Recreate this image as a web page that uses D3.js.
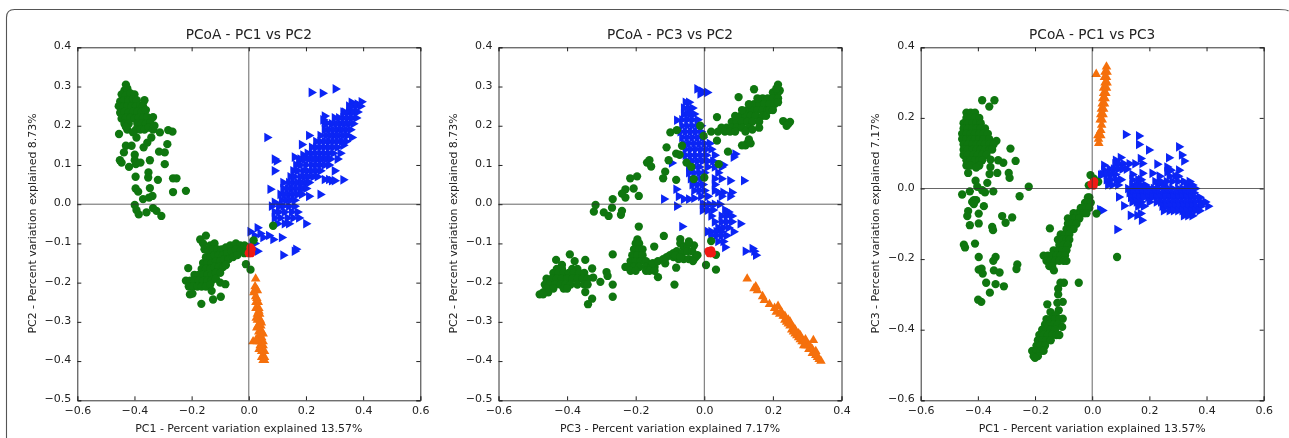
<!DOCTYPE html>
<html>
<head>
<meta charset="utf-8">
<script src="https://cdn.jsdelivr.net/npm/d3@7"></script>
<style>
  html, body { margin: 0; padding: 0; background: #fff; }
  svg { display: block; filter: blur(0.6px); }
  text { font-family: "DejaVu Sans", sans-serif; fill: #222; }
</style>
</head>
<body>
<svg id="chart" width="1289" height="438"></svg>
<script>
// values, [x, y] in axis units
const green12 = [[-0.43,0.305],[-0.435,0.29],[-0.425,0.295],[-0.445,0.28],[-0.43,0.278],[-0.415,0.283],[-0.40,0.28],
  [-0.45,0.262],[-0.437,0.265],[-0.42,0.265],[-0.405,0.268],[-0.392,0.265],[-0.455,0.25],[-0.44,0.248],[-0.425,0.25],[-0.41,0.25],[-0.395,0.25],[-0.38,0.252],[-0.365,0.265],[-0.37,0.25],
  [-0.45,0.233],[-0.435,0.235],[-0.42,0.233],[-0.405,0.235],[-0.39,0.235],[-0.375,0.235],[-0.36,0.24],[-0.445,0.218],[-0.43,0.22],[-0.415,0.22],[-0.40,0.218],[-0.385,0.22],[-0.37,0.22],[-0.355,0.222],
  [-0.435,0.205],[-0.42,0.205],[-0.39,0.205],[-0.375,0.205],[-0.36,0.205],[-0.345,0.208],[-0.335,0.222],[-0.425,0.19],[-0.395,0.19],[-0.38,0.19],[-0.365,0.19],[-0.35,0.195],[-0.335,0.19],[-0.33,0.2],
  [-0.454,0.179],[-0.43,0.197],[-0.405,0.183],[-0.393,0.17],[-0.43,0.149],[-0.41,0.149],[-0.437,0.132],[-0.451,0.112],[-0.445,0.106],[-0.399,0.126],[-0.399,0.112],[-0.419,0.095],[-0.395,0.102],[-0.379,0.106],[-0.346,0.112],
  [-0.368,0.145],[-0.355,0.157],[-0.341,0.17],[-0.311,0.183],[-0.282,0.189],[-0.267,0.185],[-0.285,0.153],[-0.314,0.134],[-0.294,0.132],[-0.294,0.102],[-0.396,0.07],[-0.351,0.081],[-0.352,0.068],[-0.318,0.062],[-0.265,0.066],[-0.253,0.066],
  [-0.22,0.034],[-0.265,0.031],[-0.346,0.041],[-0.396,0.04],[-0.387,0.032],[-0.37,0.013],[-0.337,0.021],[-0.349,0.017],[-0.399,-0.002],[-0.393,-0.015],[-0.385,-0.026],[-0.358,-0.021],[-0.335,-0.01],[-0.323,-0.017],[-0.306,-0.03],
  [-0.17,-0.09],[-0.15,-0.08],[-0.16,-0.10],[-0.135,-0.105],[-0.12,-0.10],[-0.155,-0.115],[-0.14,-0.12],[-0.125,-0.115],[-0.11,-0.115],[-0.095,-0.115],[-0.08,-0.11],[-0.065,-0.105],[-0.045,-0.10],[-0.03,-0.105],[-0.015,-0.105],[-0.005,-0.11],
  [-0.15,-0.135],[-0.135,-0.135],[-0.12,-0.13],[-0.105,-0.13],[-0.09,-0.13],[-0.075,-0.125],[-0.06,-0.12],[-0.045,-0.115],[-0.03,-0.12],[-0.015,-0.125],[-0.16,-0.15],[-0.145,-0.15],[-0.13,-0.15],[-0.115,-0.145],[-0.10,-0.145],[-0.085,-0.14],[-0.07,-0.14],[-0.055,-0.135],[-0.04,-0.13],
  [-0.165,-0.165],[-0.15,-0.165],[-0.135,-0.165],[-0.12,-0.16],[-0.105,-0.16],[-0.09,-0.16],[-0.08,-0.155],[-0.19,-0.18],[-0.175,-0.18],[-0.16,-0.18],[-0.145,-0.18],[-0.13,-0.18],[-0.115,-0.175],[-0.10,-0.175],
  [-0.22,-0.195],[-0.205,-0.195],[-0.19,-0.195],[-0.175,-0.195],[-0.16,-0.195],[-0.145,-0.195],[-0.13,-0.195],[-0.115,-0.19],[-0.10,-0.20],[-0.21,-0.21],[-0.195,-0.21],[-0.18,-0.21],[-0.165,-0.21],[-0.15,-0.21],[-0.135,-0.205],
  [-0.212,-0.163],[-0.206,-0.23],[-0.197,-0.228],[-0.166,-0.254],[-0.125,-0.243],[-0.098,-0.236],[-0.13,-0.221],[-0.082,-0.204],[0.006,-0.167],[-0.01,-0.153],[0.017,-0.092],[0.085,-0.055]];
const blue12 = [[0.359,0.26],[0.394,0.261],[0.38,0.255],[0.36,0.25],[0.375,0.25],[0.39,0.25],[0.35,0.235],[0.365,0.235],[0.38,0.235],[0.33,0.22],[0.345,0.22],[0.36,0.22],[0.375,0.22],[0.32,0.205],[0.335,0.205],[0.35,0.205],[0.365,0.205],
  [0.31,0.19],[0.325,0.19],[0.34,0.19],[0.355,0.19],[0.30,0.175],[0.315,0.175],[0.33,0.175],[0.345,0.175],[0.28,0.16],[0.295,0.16],[0.31,0.16],[0.325,0.16],[0.34,0.16],[0.36,0.17],[0.265,0.145],[0.28,0.145],[0.295,0.145],[0.31,0.145],[0.33,0.15],
  [0.25,0.13],[0.265,0.13],[0.28,0.13],[0.295,0.13],[0.32,0.13],[0.24,0.115],[0.255,0.115],[0.27,0.115],[0.285,0.115],[0.31,0.115],[0.20,0.10],[0.22,0.10],[0.235,0.10],[0.25,0.10],[0.265,0.10],[0.28,0.10],
  [0.19,0.085],[0.205,0.085],[0.22,0.085],[0.235,0.085],[0.25,0.085],[0.30,0.085],[0.18,0.07],[0.195,0.07],[0.21,0.07],[0.225,0.07],[0.24,0.07],[0.265,0.063],[0.28,0.063],[0.29,0.06],[0.30,0.06],[0.33,0.062],
  [0.155,0.055],[0.17,0.055],[0.185,0.055],[0.20,0.055],[0.15,0.04],[0.165,0.04],[0.18,0.04],[0.19,0.04],[0.14,0.025],[0.155,0.025],[0.17,0.025],[0.115,0.01],[0.13,0.01],[0.145,0.01],[0.16,0.01],[0.075,0.038],[0.21,0.02],[0.25,0.025],
  [0.08,-0.005],[0.09,0.005],[0.105,-0.005],[0.12,-0.005],[0.14,-0.005],[0.16,-0.005],[0.09,-0.02],[0.105,-0.02],[0.125,-0.02],[0.15,-0.02],[0.17,-0.02],[0.09,-0.035],[0.11,-0.035],[0.135,-0.035],[0.155,-0.035],[0.175,-0.035],[0.10,-0.05],[0.125,-0.05],[0.14,-0.05],[0.20,-0.05],
  [0.005,-0.07],[0.03,-0.06],[0.02,-0.08],[0.04,-0.075],[0.05,-0.085],[0.07,-0.08],[0.085,-0.09],[0.115,-0.085],[0.02,-0.10],[0.03,-0.12],[0.12,-0.13],[0.165,-0.115],[0.16,-0.12],[0.012,-0.1],
  [0.219,0.285],[0.258,0.283],[0.303,0.294],[0.064,0.17],[0.09,0.115],[0.097,0.11],[0.09,0.085],[0.185,0.152],[0.21,0.175],[0.265,0.21],[0.265,0.225],[0.26,0.215],[0.33,0.235],[0.19,0.125],[0.16,0.12],[0.175,0.11],
  [0.35,0.25],[0.335,0.235],[0.30,0.22],[0.315,0.22],[0.27,0.205],[0.29,0.205],[0.305,0.205],[0.265,0.19],[0.28,0.19],[0.295,0.19],[0.25,0.175],[0.27,0.175],[0.285,0.175],[0.235,0.16],[0.25,0.16],[0.265,0.16],
  [0.22,0.145],[0.235,0.145],[0.25,0.145],[0.205,0.13],[0.22,0.13],[0.235,0.13],[0.18,0.115],[0.195,0.115],[0.21,0.115],[0.225,0.115],[0.165,0.10],[0.18,0.10],[0.155,0.085],[0.17,0.085],[0.145,0.07],[0.16,0.07],
  [0.12,0.055],[0.14,0.055],[0.21,0.055],[0.12,0.04],[0.135,0.04],[0.20,0.04],[0.11,0.025],[0.125,0.025],[0.185,0.025]];
const orange12 = [[0.024,-0.19],[0.022,-0.21],[0.02,-0.22],[0.03,-0.22],[0.024,-0.235],[0.025,-0.25],[0.033,-0.25],[0.025,-0.265],[0.035,-0.265],[0.03,-0.28],[0.038,-0.28],[0.03,-0.295],[0.04,-0.295],[0.032,-0.31],[0.042,-0.31],
  [0.035,-0.325],[0.045,-0.325],[0.035,-0.34],[0.045,-0.34],[0.015,-0.35],[0.03,-0.35],[0.04,-0.35],[0.05,-0.35],[0.04,-0.36],[0.05,-0.36],[0.045,-0.375],[0.055,-0.375],[0.045,-0.39],[0.055,-0.39],[0.05,-0.398],[0.055,-0.398],
  [0.018,-0.225],[0.028,-0.24],[0.035,-0.272],[0.026,-0.29],[0.044,-0.302],[0.028,-0.315],[0.04,-0.33],[0.05,-0.33],[0.026,-0.345],[0.036,-0.37]];
const red12 = [[0.005,-0.12],[0.008,-0.125],[0.006,-0.11],[0.0,-0.125],[0.01,-0.115]];

const green32 = [[0.215,0.305],[0.20,0.285],[0.215,0.285],[0.22,0.29],[0.17,0.27],[0.185,0.27],[0.20,0.27],[0.215,0.27],[0.145,0.255],[0.16,0.255],[0.175,0.255],[0.19,0.255],[0.205,0.255],[0.125,0.24],[0.14,0.24],[0.155,0.24],[0.17,0.24],[0.185,0.24],
  [0.105,0.225],[0.12,0.225],[0.135,0.225],[0.15,0.225],[0.17,0.225],[0.18,0.225],[0.08,0.21],[0.095,0.21],[0.11,0.21],[0.125,0.21],[0.14,0.21],[0.16,0.21],[0.05,0.195],[0.065,0.195],[0.08,0.195],[0.095,0.195],[0.11,0.195],[0.13,0.195],
  [0.02,0.185],[0.04,0.185],[0.06,0.185],[0.075,0.185],[0.09,0.185],[0.12,0.185],[0.145,0.293],[0.10,0.273],[0.037,0.222],[0.23,0.212],[0.245,0.205],[0.25,0.21],[0.24,0.2],[0.125,0.155],[0.12,0.15],[0.13,0.165],[0.135,0.155],[0.11,0.15],
  [0.037,0.162],[0.069,0.134],[0.042,0.102],[-0.012,0.2],[-0.002,0.174],[-0.099,0.183],[-0.08,0.189],[-0.11,0.145],[-0.065,0.149],[-0.082,0.129],[-0.072,0.126],[-0.104,0.112],[-0.052,0.106],[-0.038,0.095],[-0.16,0.112],[-0.167,0.106],[-0.155,0.096],
  [-0.114,0.083],[-0.12,0.066],[-0.082,0.062],[-0.031,0.064],[0,0.068],[-0.196,0.071],[-0.216,0.066],[-0.23,0.038],[-0.206,0.04],[-0.24,0.027],[-0.23,0.017],[-0.191,0.021],[-0.267,0.013],[-0.317,-0.002],[-0.322,-0.019],[-0.293,-0.021],[-0.279,-0.03],[-0.269,-0.009],[-0.24,-0.017],[-0.243,-0.027],[-0.191,-0.057],
  [-0.118,-0.081],[-0.07,-0.089],[-0.146,-0.108],[-0.267,-0.128],[0.02,-0.094],[0.034,-0.129],[0.005,-0.155],[0.034,-0.167],[-0.135,-0.186],[-0.087,-0.205],[-0.082,-0.162],[-0.114,-0.151],
  [-0.195,-0.09],[-0.20,-0.10],[-0.19,-0.10],[-0.205,-0.115],[-0.19,-0.115],[-0.18,-0.115],[-0.21,-0.13],[-0.195,-0.13],[-0.18,-0.13],[-0.215,-0.145],[-0.2,-0.145],[-0.185,-0.145],[-0.17,-0.145],[-0.23,-0.16],[-0.22,-0.16],[-0.205,-0.16],[-0.19,-0.16],[-0.17,-0.16],[-0.155,-0.16],[-0.145,-0.16],
  [-0.215,-0.17],[-0.20,-0.17],[-0.17,-0.17],[-0.16,-0.17],[-0.145,-0.17],[-0.15,-0.15],[-0.135,-0.145],[-0.12,-0.14],[-0.11,-0.135],[-0.10,-0.13],[-0.09,-0.135],[-0.075,-0.14],[-0.06,-0.14],[-0.045,-0.14],[-0.03,-0.14],
  [-0.07,-0.10],[-0.06,-0.11],[-0.05,-0.105],[-0.08,-0.12],[-0.065,-0.125],[-0.05,-0.12],[-0.035,-0.12],[-0.09,-0.125],[-0.03,-0.105],[-0.045,-0.095],[-0.085,-0.13],[-0.07,-0.135],[-0.025,-0.135],[-0.02,-0.13],[-0.033,-0.145],
  [-0.392,-0.128],[-0.432,-0.142],[-0.378,-0.145],[-0.347,-0.142],[-0.415,-0.155],[-0.327,-0.164],[-0.324,-0.187],[-0.303,-0.198],[-0.285,-0.173],[-0.282,-0.183],[-0.267,-0.205],[-0.267,-0.236],[-0.327,-0.241],[-0.339,-0.255],[-0.347,-0.224],
  [-0.43,-0.165],[-0.415,-0.165],[-0.385,-0.165],[-0.37,-0.165],[-0.44,-0.175],[-0.425,-0.175],[-0.41,-0.175],[-0.395,-0.175],[-0.38,-0.175],[-0.365,-0.175],[-0.35,-0.175],[-0.46,-0.19],[-0.445,-0.19],[-0.43,-0.19],[-0.415,-0.19],[-0.40,-0.19],[-0.385,-0.19],[-0.37,-0.19],[-0.355,-0.19],[-0.34,-0.19],
  [-0.465,-0.205],[-0.45,-0.205],[-0.435,-0.205],[-0.42,-0.205],[-0.405,-0.205],[-0.39,-0.205],[-0.37,-0.205],[-0.35,-0.205],[-0.34,-0.205],[-0.46,-0.215],[-0.44,-0.215],[-0.41,-0.215],[-0.40,-0.215],[-0.47,-0.225],[-0.455,-0.225],[-0.48,-0.23],[-0.47,-0.23],
  [0.155,0.27],[0.13,0.255],[0.11,0.24],[0.09,0.225],[0.19,0.24],[0.20,0.24],[0.16,0.195],[0.14,0.19],[0.215,0.26],[0.21,0.295]];
const blue32 = [[-0.021,0.294],[-0.007,0.288],[0.008,0.285],[-0.012,0.281],[-0.055,0.26],[-0.045,0.26],[-0.06,0.245],[-0.045,0.245],[-0.035,0.245],[-0.06,0.23],[-0.05,0.23],[-0.04,0.23],[-0.03,0.23],[-0.08,0.214],[-0.065,0.215],[-0.05,0.215],[-0.035,0.215],[-0.02,0.215],
  [-0.065,0.20],[-0.05,0.20],[-0.035,0.20],[-0.02,0.20],[-0.01,0.20],[-0.07,0.185],[-0.055,0.185],[-0.04,0.185],[-0.025,0.185],[-0.01,0.185],[-0.065,0.17],[-0.05,0.17],[-0.035,0.17],[-0.02,0.17],[-0.005,0.17],
  [-0.06,0.155],[-0.045,0.155],[-0.03,0.155],[-0.015,0.155],[0,0.155],[0.015,0.155],[-0.055,0.14],[-0.04,0.14],[-0.025,0.14],[-0.01,0.14],[0.005,0.14],[0.02,0.14],[-0.055,0.125],[-0.04,0.125],[-0.025,0.125],[-0.01,0.125],[0.005,0.125],[0.03,0.125],
  [-0.05,0.11],[-0.035,0.11],[-0.02,0.11],[-0.005,0.11],[0.01,0.11],[0.025,0.11],[0.055,0.10],[-0.045,0.095],[-0.03,0.095],[-0.015,0.095],[0.01,0.095],[0.03,0.095],[0.05,0.095],[-0.045,0.08],[-0.03,0.08],[-0.015,0.08],[0,0.08],[0.04,0.08],
  [-0.04,0.065],[-0.025,0.065],[-0.01,0.065],[0.03,0.065],[0.05,0.065],[0.075,0.06],[-0.035,0.05],[-0.02,0.05],[-0.005,0.05],[0.03,0.05],[-0.082,0.038],[-0.03,0.035],[-0.015,0.035],[0,0.035],[0.03,0.035],
  [-0.075,0.02],[-0.06,0.013],[-0.045,0.013],[-0.03,0.015],[-0.01,0.02],[0.01,0.02],[0.05,0.02],[0.075,0.02],[0.115,0.06],[0.08,0.03],[0.055,0.03],[0.04,0.03],[-0.118,0.013],[-0.08,-0.005],[-0.095,0.105],[0.09,0.128],[0.085,0.12],
  [0,0],[0.015,0],[0.03,0],[0.045,0],[-0.005,0],[-0.005,-0.015],[0.01,-0.015],[0.025,-0.015],[0.06,-0.015],[0.07,-0.02],[0.02,-0.03],[0.05,-0.03],[0.065,-0.03],[0.08,-0.03],[0.03,-0.045],[0.05,-0.045],[0.065,-0.045],[0.08,-0.045],[0.105,-0.05],
  [0.04,-0.06],[0.055,-0.06],[0.07,-0.06],[0.01,-0.07],[0.02,-0.07],[0.035,-0.07],[0.05,-0.07],[0.085,-0.07],[0.02,-0.08],[0.035,-0.08],[0.05,-0.08],[0.065,-0.08],[0.04,-0.095],[0.055,-0.095],[0.06,-0.11],[-0.065,-0.057],
  [0.12,-0.12],[0.14,-0.113],[0.15,-0.13],[0.145,-0.12]];
const orange32 = [[0.125,-0.19],[0.145,-0.215],[0.155,-0.22],[0.15,-0.21],[0.17,-0.235],[0.175,-0.245],[0.19,-0.255],[0.205,-0.265],[0.21,-0.275],[0.215,-0.26],[0.22,-0.28],[0.23,-0.285],[0.225,-0.275],[0.235,-0.295],[0.24,-0.30],[0.245,-0.295],
  [0.25,-0.31],[0.255,-0.32],[0.26,-0.315],[0.265,-0.33],[0.27,-0.335],[0.275,-0.33],[0.28,-0.345],[0.285,-0.35],[0.29,-0.35],[0.295,-0.36],[0.30,-0.36],[0.305,-0.37],[0.31,-0.365],[0.315,-0.38],[0.32,-0.38],[0.325,-0.385],[0.33,-0.39],[0.335,-0.395],[0.34,-0.40],[0.318,-0.347],
  [0.235,-0.285],[0.245,-0.305],[0.25,-0.30],[0.26,-0.325],[0.265,-0.32],[0.275,-0.34],[0.28,-0.335],[0.29,-0.36],[0.295,-0.345],[0.305,-0.36],[0.315,-0.37],[0.325,-0.375]];
const red32 = [[0.012,-0.12],[0.018,-0.122],[0.02,-0.118],[0.015,-0.125],[0.022,-0.125]];

const green13 = [[-0.44,0.215],[-0.425,0.215],[-0.41,0.215],[-0.44,0.20],[-0.425,0.20],[-0.41,0.20],[-0.395,0.20],[-0.45,0.185],[-0.435,0.185],[-0.42,0.185],[-0.405,0.185],[-0.39,0.185],[-0.45,0.17],[-0.435,0.17],[-0.42,0.17],[-0.405,0.17],[-0.39,0.17],[-0.375,0.17],
  [-0.455,0.155],[-0.44,0.155],[-0.425,0.155],[-0.41,0.155],[-0.395,0.155],[-0.38,0.155],[-0.365,0.155],[-0.455,0.14],[-0.44,0.14],[-0.425,0.14],[-0.41,0.14],[-0.395,0.14],[-0.38,0.14],[-0.36,0.14],[-0.335,0.135],
  [-0.45,0.125],[-0.435,0.125],[-0.42,0.125],[-0.405,0.125],[-0.39,0.125],[-0.375,0.125],[-0.36,0.125],[-0.345,0.125],[-0.45,0.11],[-0.435,0.11],[-0.42,0.11],[-0.405,0.11],[-0.39,0.11],[-0.375,0.11],[-0.36,0.11],[-0.35,0.11],
  [-0.45,0.095],[-0.435,0.095],[-0.415,0.095],[-0.40,0.095],[-0.385,0.095],[-0.37,0.095],[-0.44,0.08],[-0.425,0.08],[-0.41,0.08],[-0.395,0.08],[-0.385,0.08],[-0.44,0.065],[-0.425,0.065],[-0.395,0.065],
  [-0.385,0.25],[-0.342,0.25],[-0.36,0.232],[-0.286,0.113],[-0.268,0.078],[-0.329,0.08],[-0.311,0.073],[-0.356,0.082],[-0.292,0.044],[-0.289,0.03],[-0.332,0.044],[-0.359,0.041],[-0.356,0.061],[-0.406,0.059],[-0.434,0.044],[-0.408,0.022],[-0.367,0.016],[-0.402,0.005],[-0.385,-0.005],[-0.346,-0.008],[-0.375,-0.011],[-0.428,-0.008],[-0.455,-0.017],
  [-0.414,-0.033],[-0.42,-0.038],[-0.406,-0.033],[-0.414,-0.044],[-0.379,-0.05],[-0.434,-0.064],[-0.437,-0.078],[-0.397,-0.071],[-0.428,-0.104],[-0.397,-0.099],[-0.35,-0.109],[-0.347,-0.118],[-0.315,-0.078],[-0.303,-0.097],[-0.28,-0.082],[-0.254,-0.022],[-0.222,0.005],
  [-0.449,-0.159],[-0.445,-0.167],[-0.41,-0.156],[-0.397,-0.194],[-0.338,-0.194],[-0.346,-0.205],[-0.397,-0.23],[-0.387,-0.227],[-0.383,-0.241],[-0.344,-0.232],[-0.324,-0.238],[-0.262,-0.215],[-0.265,-0.228],[-0.371,-0.267],[-0.338,-0.271],[-0.309,-0.277],[-0.358,-0.295],[-0.399,-0.315],[-0.388,-0.321],
  [-0.148,-0.113],[-0.047,-0.267],[0.087,-0.194],[0.015,-0.071],
  [-0.015,-0.025],[-0.01,-0.025],[-0.025,-0.04],[-0.015,-0.04],[-0.005,-0.04],[-0.04,-0.055],[-0.03,-0.055],[-0.02,-0.055],[-0.01,-0.055],[-0.065,-0.07],[-0.05,-0.07],[-0.04,-0.07],[-0.03,-0.07],[-0.02,-0.07],[-0.085,-0.085],[-0.07,-0.085],[-0.06,-0.085],[-0.045,-0.085],[-0.085,-0.10],[-0.07,-0.10],[-0.055,-0.10],
  [-0.09,-0.115],[-0.075,-0.115],[-0.065,-0.115],[-0.11,-0.13],[-0.095,-0.13],[-0.08,-0.13],[-0.12,-0.145],[-0.105,-0.145],[-0.09,-0.145],[-0.08,-0.145],[-0.115,-0.16],[-0.10,-0.16],[-0.085,-0.16],[-0.135,-0.175],[-0.12,-0.175],[-0.105,-0.175],[-0.09,-0.175],
  [-0.17,-0.19],[-0.155,-0.19],[-0.14,-0.19],[-0.125,-0.19],[-0.11,-0.19],[-0.095,-0.19],[-0.16,-0.205],[-0.145,-0.205],[-0.13,-0.205],[-0.115,-0.205],[-0.10,-0.205],[-0.09,-0.205],[-0.15,-0.22],[-0.14,-0.22],[-0.134,-0.232],
  [-0.119,-0.284],[-0.099,-0.267],[-0.111,-0.267],[-0.119,-0.3],[-0.103,-0.321],[-0.122,-0.324],[-0.157,-0.328],[-0.146,-0.35],[-0.117,-0.345],[-0.103,-0.369],[-0.128,-0.359],
  [-0.16,-0.37],[-0.145,-0.37],[-0.13,-0.37],[-0.115,-0.37],[-0.165,-0.385],[-0.15,-0.385],[-0.135,-0.385],[-0.12,-0.385],[-0.175,-0.40],[-0.16,-0.40],[-0.145,-0.40],[-0.13,-0.40],[-0.105,-0.392],[-0.185,-0.415],[-0.17,-0.415],[-0.155,-0.415],[-0.14,-0.415],[-0.125,-0.415],[-0.115,-0.415],
  [-0.19,-0.43],[-0.175,-0.43],[-0.16,-0.43],[-0.145,-0.43],[-0.195,-0.445],[-0.18,-0.445],[-0.165,-0.445],[-0.21,-0.46],[-0.195,-0.46],[-0.18,-0.46],[-0.17,-0.46],[-0.205,-0.475],[-0.19,-0.475],[-0.2,-0.48],
  [-0.006,0.038],[0.006,0.028],[-0.012,0.009],[0.021,0.019]];
const blue13 = [[0.117,0.153],[0.163,0.149],[0.163,0.125],[0.198,0.109],[0.303,0.118],[0.313,0.095],[0.321,0.078],[0.268,0.087],[0.227,0.069],[0.169,0.085],[0.175,0.071],[0.099,0.088],[0.082,0.08],[0.041,0.066],[0.041,0.052],[0.03,0.038],[0.175,0.043],[0.21,0.043],[0.262,0.061],[0.274,0.052],[0.303,0.052],[0.262,0.047],
  [0.027,-0.06],[0.035,-0.062],[0.087,-0.116],[0.173,-0.09],[0.157,-0.076],[0.134,-0.076],[0.093,-0.024],[0.111,-0.049],[0.169,-0.071],
  [0.08,0.07],[0.095,0.07],[0.11,0.07],[0.13,0.07],[0.15,0.07],[0.06,0.055],[0.075,0.055],[0.09,0.055],[0.105,0.055],[0.12,0.055],[0.035,0.04],[0.05,0.04],[0.065,0.04],[0.08,0.04],[0.14,0.04],[0.05,0.025],[0.065,0.025],[0.085,0.025],[0.10,0.025],[0.14,0.025],[0.16,0.025],[0.17,0.025],
  [0.055,0.01],[0.07,0.01],[0.09,0.01],[0.14,0.01],[0.155,0.01],[0.17,0.01],[0.185,0.01],[0.23,0.01],[0.25,0.01],[0.33,0.01],[0.35,0.01],
  [0.22,0.02],[0.24,0.02],[0.26,0.02],[0.28,0.02],[0.30,0.02],[0.32,0.02],[0.34,0.02],[0.27,0.035],[0.29,0.035],[0.30,0.035],[0.235,0.035],
  [0.125,0],[0.14,0],[0.155,0],[0.17,0],[0.185,0],[0.20,0],[0.215,0],[0.23,0],[0.25,0],[0.265,0],[0.28,0],[0.30,0],[0.315,0],[0.33,0],[0.345,0],[0.36,0],
  [0.13,-0.012],[0.145,-0.012],[0.16,-0.012],[0.175,-0.012],[0.19,-0.012],[0.205,-0.012],[0.22,-0.012],[0.235,-0.012],[0.25,-0.012],[0.265,-0.012],[0.28,-0.012],[0.295,-0.012],[0.31,-0.012],[0.325,-0.012],[0.34,-0.012],[0.355,-0.012],
  [0.135,-0.025],[0.15,-0.025],[0.165,-0.025],[0.18,-0.025],[0.195,-0.025],[0.21,-0.025],[0.225,-0.025],[0.24,-0.025],[0.255,-0.025],[0.27,-0.025],[0.285,-0.025],[0.30,-0.025],[0.315,-0.025],[0.33,-0.025],[0.345,-0.025],[0.36,-0.025],[0.375,-0.025],
  [0.14,-0.038],[0.155,-0.038],[0.17,-0.038],[0.20,-0.038],[0.225,-0.038],[0.24,-0.038],[0.255,-0.038],[0.27,-0.038],[0.285,-0.038],[0.30,-0.038],[0.315,-0.038],[0.33,-0.038],[0.345,-0.038],[0.36,-0.038],[0.38,-0.038],[0.395,-0.038],
  [0.16,-0.05],[0.18,-0.05],[0.245,-0.05],[0.26,-0.05],[0.275,-0.05],[0.29,-0.05],[0.305,-0.05],[0.32,-0.05],[0.335,-0.05],[0.35,-0.05],[0.365,-0.05],[0.38,-0.05],[0.405,-0.05],
  [0.25,-0.063],[0.27,-0.063],[0.285,-0.063],[0.30,-0.063],[0.315,-0.063],[0.33,-0.063],[0.345,-0.063],[0.36,-0.063],[0.375,-0.063],[0.32,-0.077],[0.335,-0.077],[0.35,-0.077]];
const orange13 = [[0.05,0.345],[0.045,0.33],[0.052,0.33],[0.05,0.315],[0.043,0.315],[0.045,0.30],[0.052,0.30],[0.04,0.285],[0.05,0.285],[0.04,0.27],[0.048,0.27],[0.037,0.255],[0.045,0.255],[0.035,0.24],[0.043,0.24],[0.032,0.225],[0.04,0.225],[0.03,0.21],[0.038,0.21],[0.035,0.195],[0.028,0.195],[0.033,0.18],[0.03,0.165],[0.025,0.155],[0.02,0.15],[0.03,0.15],[0.023,0.128],[0.022,0.14],[0.014,0.324]];
const red13 = [[0,0.01],[0.005,0.015],[0.007,0.02],[-0.002,0.012],[0.005,0.008]];

const titles = ["PCoA - PC1 vs PC2", "PCoA - PC3 vs PC2", "PCoA - PC1 vs PC3"];
const xLabels = ["PC1 - Percent variation explained 13.57%", "PC3 - Percent variation explained 7.17%", "PC1 - Percent variation explained 13.57%"];
const yLabels = ["PC2 - Percent variation explained 8.73%", "PC2 - Percent variation explained 8.73%", "PC3 - Percent variation explained 7.17%"];
const xTicks = [[-0.6,-0.4,-0.2,0,0.2,0.4,0.6], [-0.6,-0.4,-0.2,0,0.2,0.4], [-0.6,-0.4,-0.2,0,0.2,0.4,0.6]];
const yTicks = [[-0.5,-0.4,-0.3,-0.2,-0.1,0,0.1,0.2,0.3,0.4], [-0.5,-0.4,-0.3,-0.2,-0.1,0,0.1,0.2,0.3,0.4], [-0.6,-0.4,-0.2,0,0.2,0.4]];
const greens = [green12, green32, green13];
const blues = [blue12, blue32, blue13];
const oranges = [orange12, orange32, orange13];
const reds = [red12, red32, red13];

const svg = d3.select("#chart");
const top_ = 47.3, bottom = 400.3;
const lefts = [77.3, 498.5, 920.7];
const plotW = 343;
const yLabelX = [32, 453, 875];
const fmt = d3.format(".1f");

// card outline behind the three plots
svg.append("path").attr("fill", "none").attr("stroke", "#555").attr("stroke-width", 1.1)
  .attr("d", "M6.5,438V17.5Q6.5,9.5 14.5,9.5H1279Q1287,9.5 1288.5,11");

titles.forEach((title, i) => {
  const xt = xTicks[i], yt = yTicks[i];
  const left = lefts[i], right = left + plotW;
  const x = d3.scaleLinear().domain(d3.extent(xt)).range([left, right]);
  const y = d3.scaleLinear().domain(d3.extent(yt)).range([bottom, top_]);
  const g = svg.append("g");

  // scatter layers, green sits over blue and red over everything
  const marks = g.append("g");
  marks.selectAll(".orange").data(oranges[i]).enter().append("path").attr("class", "orange")
    .attr("d", d3.symbol(d3.symbolTriangle, 40)).attr("fill", "#f5700c")
    .attr("transform", d => `translate(${x(d[0])},${y(d[1])})`);
  marks.selectAll(".blue").data(blues[i]).enter().append("path").attr("class", "blue")
    .attr("d", d3.symbol(d3.symbolTriangle, 40)).attr("fill", "#0b25f5")
    .attr("transform", d => `translate(${x(d[0])},${y(d[1])}) rotate(90)`);
  marks.selectAll(".green").data(greens[i]).enter().append("path").attr("class", "green")
    .attr("d", d3.symbol(d3.symbolCircle, 54)).attr("fill", "#0f760f")
    .attr("transform", d => `translate(${x(d[0])},${y(d[1])})`);
  marks.selectAll(".red").data(reds[i]).enter().append("path").attr("class", "red")
    .attr("d", d3.symbol(d3.symbolCircle, 54)).attr("fill", "#f01a14")
    .attr("transform", d => `translate(${x(d[0])},${y(d[1])})`);

  // zero lines
  g.append("line").attr("x1", left).attr("x2", right).attr("y1", y(0)).attr("y2", y(0))
    .attr("stroke", "#333").attr("stroke-opacity", 0.75).attr("stroke-width", 1);
  g.append("line").attr("x1", x(0)).attr("x2", x(0)).attr("y1", bottom).attr("y2", top_)
    .attr("stroke", "#333").attr("stroke-opacity", 0.75).attr("stroke-width", 1);

  // frame and inward ticks
  const bottomAxis = d3.axisBottom(x).tickValues(xt).tickFormat(fmt).tickSize(-4).tickPadding(6);
  const topAxis = d3.axisTop(x).tickValues(xt).tickFormat("").tickSize(-4);
  const leftAxis = d3.axisLeft(y).tickValues(yt).tickFormat(fmt).tickSize(-4).tickPadding(6);
  const rightAxis = d3.axisRight(y).tickValues(yt).tickFormat("").tickSize(-4);
  g.append("g").attr("transform", `translate(0,${bottom})`).call(bottomAxis);
  g.append("g").attr("transform", `translate(0,${top_})`).call(topAxis);
  const leftG = g.append("g").attr("transform", `translate(${left},0)`).call(leftAxis);
  g.append("g").attr("transform", `translate(${right},0)`).call(rightAxis);
  leftG.selectAll(".tick text").attr("y", -2);
  g.selectAll(".domain").attr("stroke", "#333");
  g.selectAll(".tick line").attr("stroke", "#222");
  g.selectAll(".tick text").style("font-family", '"DejaVu Sans", sans-serif').style("font-size", "11px").attr("fill", "#222");

  g.append("text").attr("x", left + plotW / 2).attr("y", 38.5).attr("text-anchor", "middle").style("font-size", "13.7px").text(title);
  g.append("text").attr("x", left + plotW / 2).attr("y", 432).attr("text-anchor", "middle").style("font-size", "10.95px").text(xLabels[i]);
  g.append("text").attr("transform", `translate(${yLabelX[i]},223.5) rotate(-90)`).attr("y", 4).attr("text-anchor", "middle").style("font-size", "10.95px").text(yLabels[i]);
});
</script>
</body>
</html>
